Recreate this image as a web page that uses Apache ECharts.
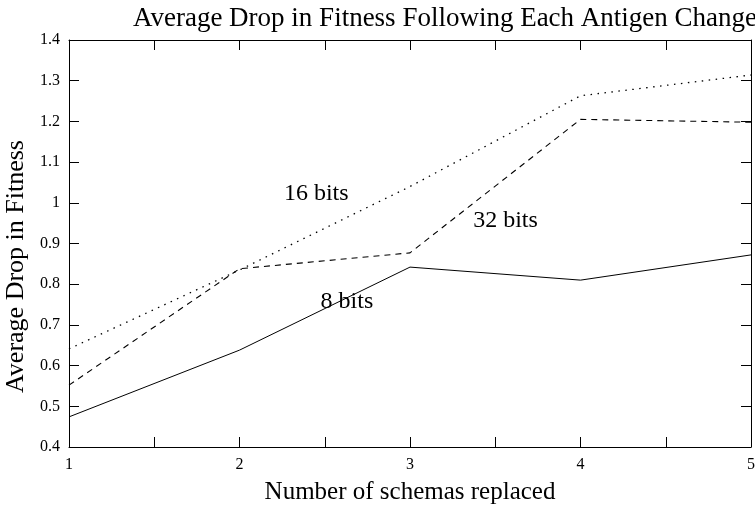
<!DOCTYPE html>
<html>
<head>
<meta charset="utf-8">
<script src="https://cdn.jsdelivr.net/npm/echarts@6/dist/echarts.min.js"></script>
<style>
  html, body { margin: 0; padding: 0; background: #fff; }
  #chart { width: 755px; height: 509px; }
</style>
</head>
<body>
<div id="chart"></div>
<script>
// schemas replaced (x axis)
const schemas = [1, 2, 3, 4, 5]
// average drop in fitness per antigen size
const bits8 = [0.474, 0.638, 0.842, 0.810, 0.872]
const bits16 = [0.641, 0.835, 1.040, 1.263, 1.314]
const bits32 = [0.552, 0.838, 0.877, 1.205, 1.198]
// inline labels: [text, x, y] in data units
const seriesLabels = [
  ['16 bits', 2.45, 1.022],
  ['32 bits', 3.56, 0.957],
  ['8 bits', 2.63, 0.757],
]

const font = '"Liberation Serif", "DejaVu Serif", serif'
const black = '#000'

const chart = echarts.init(document.getElementById('chart'))

function pts(values) {
  return schemas.map((x, i) => [x, values[i]])
}

function lineSeries(name, values, type, width) {
  return {
    name,
    type: 'line',
    data: pts(values),
    symbol: 'none',
    silent: true,
    animation: false,
    lineStyle: { color: black, width, type },
  }
}

const xCommon = {
  type: 'value',
  min: 1,
  max: 5,
  interval: 0.5,
  axisLine: { show: true, lineStyle: { color: black, width: 1 } },
  axisTick: { show: true, inside: true, length: 10, lineStyle: { color: black } },
  splitLine: { show: false },
}
const yCommon = {
  type: 'value',
  min: 0.4,
  max: 1.4,
  interval: 0.1,
  axisLine: { show: true, lineStyle: { color: black, width: 1 } },
  axisTick: { show: true, inside: true, length: 10, lineStyle: { color: black } },
  splitLine: { show: false },
}

const option = {
  backgroundColor: '#fff',
  title: {
    text: 'Average Drop in Fitness Following Each Antigen Change',
    left: 440,
    textAlign: 'center',
    top: 0,
    textStyle: { fontFamily: font, fontSize: 27, fontWeight: 'normal', color: black },
  },
  grid: { left: 69, right: 4, top: 40, bottom: 62, outerBoundsMode: 'none', containLabel: false },
  xAxis: [
    {
      ...xCommon,
      position: 'bottom',
      name: 'Number of schemas replaced',
      nameLocation: 'middle',
      nameGap: 33,
      nameTextStyle: { fontFamily: font, fontSize: 25, color: black },
      axisLabel: {
        fontFamily: font,
        fontSize: 16,
        color: black,
        margin: 10,
        formatter: (v) => (Number.isInteger(v) ? String(v) : ''),
      },
    },
    { ...xCommon, position: 'top', axisLabel: { show: false } },
  ],
  yAxis: [
    {
      ...yCommon,
      position: 'left',
      name: 'Average Drop in Fitness',
      nameLocation: 'middle',
      nameGap: 38,
      nameTextStyle: { fontFamily: font, fontSize: 26, color: black, padding: [0, 46, 0, 0] },
      axisLabel: {
        fontFamily: font,
        fontSize: 16,
        color: black,
        margin: 9,
        formatter: (v) => String(Math.round(v * 10) / 10),
      },
    },
    { ...yCommon, position: 'right', axisLabel: { show: false } },
  ],
  series: [
    lineSeries('8 bits', bits8, 'solid', 1),
    lineSeries('16 bits', bits16, [1.5, 5.5], 1.3),
    lineSeries('32 bits', bits32, [6, 5], 1.1),
  ],
}

chart.setOption(option)

// inline series labels, placed from data coordinates
chart.setOption({
  graphic: seriesLabels.map(([text, x, y]) => {
    const [px, py] = chart.convertToPixel({ gridIndex: 0 }, [x, y])
    return {
      type: 'text',
      x: px,
      y: py,
      silent: true,
      style: {
        text,
        fill: black,
        font: '24px ' + font,
        align: 'center',
        verticalAlign: 'middle',
      },
    }
  }),
})
</script>
</body>
</html>
